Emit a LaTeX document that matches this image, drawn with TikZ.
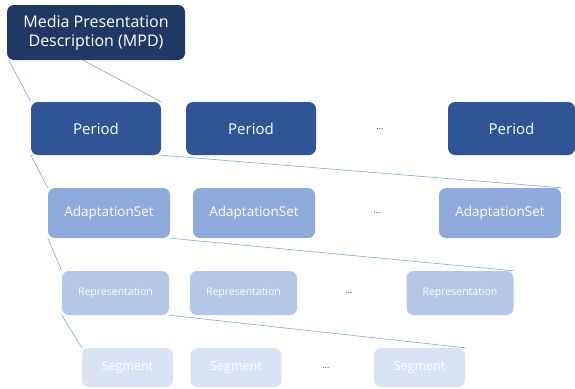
\documentclass[tikz,border=0pt]{standalone}
\usepackage{fontspec}
\setmainfont{Open Sans}
\usepackage{xcolor}
\usepackage{tikz}
\usetikzlibrary{backgrounds}
\definecolor{mpdNavy}{HTML}{203864}
\definecolor{periodBlue}{HTML}{2F5597}
\definecolor{adaptBlue}{HTML}{8FAADC}
\definecolor{reprBlue}{HTML}{B4C7E7}
\definecolor{segBlue}{HTML}{DAE3F3}
\definecolor{linkBlue}{HTML}{7FA8D8}
\tikzset{
	box/.style={rounded corners=7pt, text=white, inner sep=0pt, align=center},
	mpdbox/.style={box, fill=mpdNavy, minimum width=178pt, minimum height=55pt, font=\fontsize{16}{19}\selectfont},
	periodbox/.style={box, fill=periodBlue, minimum width=130pt, minimum height=53pt, font=\fontsize{15}{18}\selectfont},
	adaptbox/.style={box, fill=adaptBlue, minimum width=122pt, minimum height=50pt, font=\fontsize{13.5}{16}\selectfont},
	reprbox/.style={box, fill=reprBlue, minimum width=107pt, minimum height=44pt, font=\fontsize{10.5}{12}\selectfont},
	segbox/.style={box, fill=segBlue, minimum width=91pt, minimum height=39pt, font=\fontsize{12.5}{15}\selectfont},
	gap/.style={text=black!75, font=\fontsize{9}{10}\selectfont},
	link/.style={draw=linkBlue, line width=0.6pt}
}

\begin{document}
\begin{tikzpicture}[x=1pt, y=-1pt]

  \useasboundingbox (0,0) rectangle (575,388);

  \node[mpdbox] (mpd) at (96,32.5) {Media Presentation\\Description (MPD)};

  \node[periodbox] (per1) at (96,128.5) {Period};
  \node[periodbox] (per2) at (251,128.5) {Period};
  \node[gap] (perdots) at (380,129) {…};
  \node[periodbox, minimum width=127pt] (per3) at (511.5,128.5) {Period};

  \node[adaptbox] (as1) at (109,213) {AdaptationSet};
  \node[adaptbox] (as2) at (254,213) {AdaptationSet};
  \node[gap] (asdots) at (377,213) {…};
  \node[adaptbox] (as3) at (500,213) {AdaptationSet};

  \node[reprbox] (rep1) at (115.5,293) {Representation};
  \node[reprbox] (rep2) at (243.5,293) {Representation};
  \node[gap] (repdots) at (349,293) {…};
  \node[reprbox] (rep3) at (460,293) {Representation};

  \node[segbox] (seg1) at (127.5,367.5) {Segment};
  \node[segbox] (seg2) at (236,367.5) {Segment};
  \node[gap] (segdots) at (326,368) {…};
  \node[segbox] (seg3) at (419.5,367.5) {Segment};

  \begin{pgfonlayer}{background}
    \draw[link] ([xshift=2pt]mpd.south west) -- (per1.north west);
    \draw[link] ([xshift=-13pt]mpd.south) -- (per1.north east);
    \draw[link] (per1.south west) -- (as1.north west);
    \draw[link] (per1.south east) -- (as3.north east);
    \draw[link] (as1.south west) -- (rep1.north west);
    \draw[link] (as1.south east) -- (rep3.north east);
    \draw[link] (rep1.south west) -- (seg1.north west);
    \draw[link] (rep1.south east) -- (seg3.north east);
  \end{pgfonlayer}

\end{tikzpicture}
\end{document}
